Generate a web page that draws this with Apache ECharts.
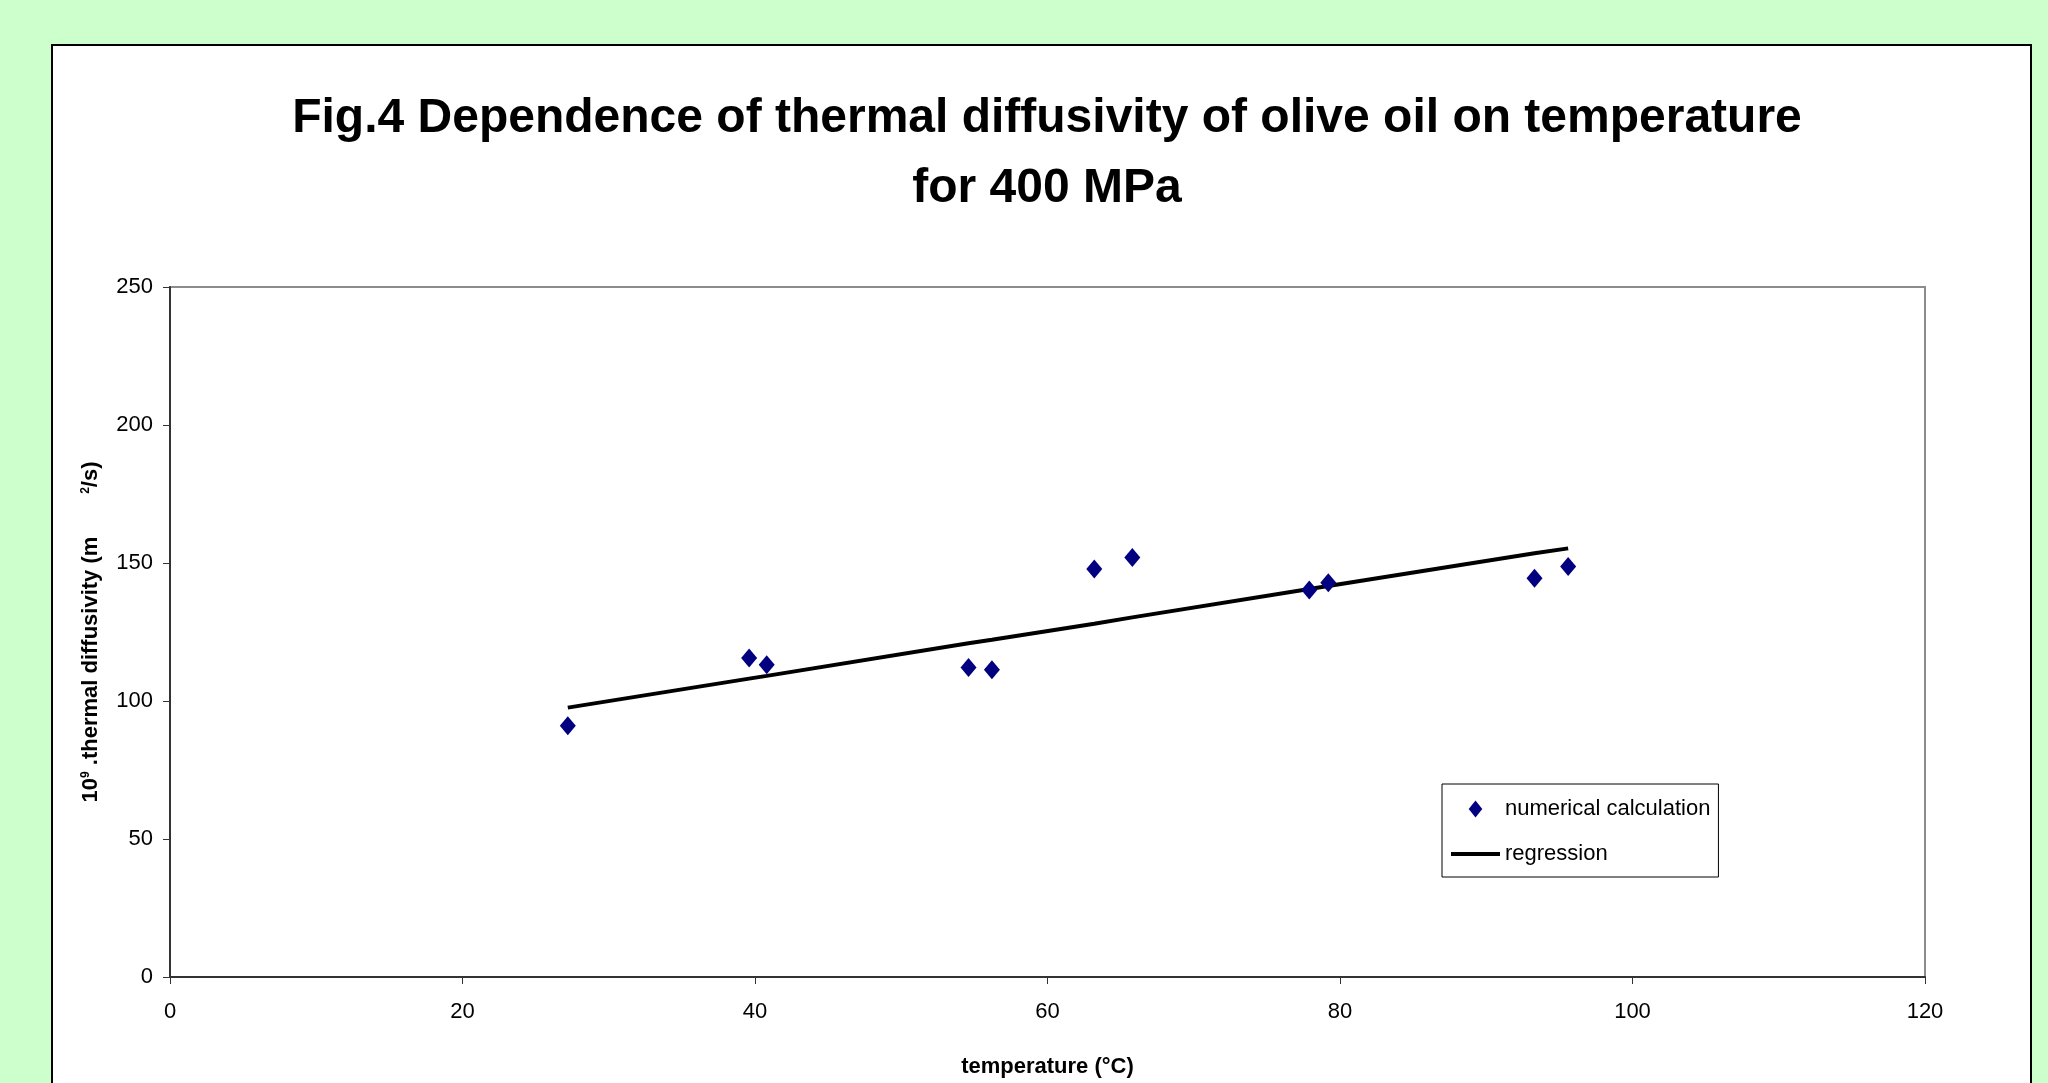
<!DOCTYPE html>
<html>
<head>
<meta charset="utf-8">
<script src="https://cdn.jsdelivr.net/npm/echarts@6/dist/echarts.min.js"></script>
<style>
  html, body { margin: 0; padding: 0; background: #ccffcc; }
  #main { width: 2048px; height: 1083px; }
</style>
</head>
<body>
<div id="main"></div>
<script>
// temperature (°C) of each calculated point
let tempC = [27.2, 39.6, 40.8, 54.6, 56.2, 63.2, 65.8, 77.9, 79.2, 93.3, 95.6];
// 10^9 . thermal diffusivity (m2/s)
let diffusivity = [91.0, 115.6, 113.1, 112.1, 111.3, 147.8, 152.0, 140.2, 142.8, 144.5, 148.7];
// regression line read at the same temperatures
let regressionY = [97.6, 108.1, 109.1, 120.9, 122.2, 128.0, 130.3, 140.6, 141.7, 153.5, 155.3];
let xTicks = [0, 20, 40, 60, 80, 100, 120];
let yTicks = [0, 50, 100, 150, 200, 250];

let font = "'Liberation Sans', Arial, sans-serif";
let myChart = echarts.init(document.getElementById('main'));

let option = {
    backgroundColor: '#ccffcc',
    animation: false,
    graphic: [{
        type: 'rect',
        z: -10,
        shape: { x: 52, y: 45, width: 1979, height: 1100 },
        style: { fill: '#ffffff', stroke: '#000000', lineWidth: 2 }
    }],
    title: {
        text: 'Fig.4 Dependence of thermal diffusivity of olive oil on temperature\nfor 400 MPa',
        left: 1042,
        top: 79,
        textAlign: 'center',
        textStyle: {
            fontFamily: font,
            fontWeight: 'bold',
            fontSize: 48,
            lineHeight: 70,
            color: '#000'
        }
    },
    legend: {
        orient: 'vertical',
        left: 1442,
        top: 784,
        padding: [14, 8, 12, 9],
        itemGap: 23,
        itemWidth: 49,
        itemHeight: 17,
        symbolKeepAspect: true,
        backgroundColor: '#fff',
        borderColor: '#000',
        borderWidth: 1,
        textStyle: { fontFamily: font, fontSize: 22, color: '#000' },
        data: [
            { name: 'numerical calculation', icon: 'path://M0,-10 L8,0 L0,10 L-8,0 Z' },
            { name: 'regression', icon: 'path://M0,0 L49,0 L49,4 L0,4 Z' }
        ]
    },
    grid: {
        left: 170,
        right: 123,
        top: 287,
        bottom: 102,
        show: true,
        backgroundColor: '#fff',
        borderColor: '#8c8c8c',
        borderWidth: 2
    },
    xAxis: {
        type: 'value',
        min: xTicks[0],
        max: xTicks[xTicks.length - 1],
        interval: 20,
        name: 'temperature (°C)',
        nameLocation: 'middle',
        nameGap: 79,
        nameTextStyle: { fontFamily: font, fontWeight: 'bold', fontSize: 22, color: '#000' },
        axisLine: { lineStyle: { color: '#333', width: 2 } },
        axisTick: { length: 7, lineStyle: { color: '#333' } },
        axisLabel: { fontFamily: font, fontSize: 22, color: '#000', margin: 24 },
        splitLine: { show: false }
    },
    yAxis: {
        type: 'value',
        min: yTicks[0],
        max: yTicks[yTicks.length - 1],
        interval: 50,
        name: '{b|10}{sup|9}{b| .thermal diffusivity (m       }{sup|2}{b|/s)}',
        nameLocation: 'middle',
        nameGap: 68,
        nameTextStyle: {
            rich: {
                b: { fontFamily: font, fontWeight: 'bold', fontSize: 22, color: '#000' },
                sup: { fontFamily: font, fontWeight: 'bold', fontSize: 12, color: '#000', verticalAlign: 'top', padding: [0, 0, 8, 0] }
            }
        },
        axisLine: { show: true, lineStyle: { color: '#333', width: 2 } },
        axisTick: { show: true, length: 7, lineStyle: { color: '#333' } },
        axisLabel: { fontFamily: font, fontSize: 22, color: '#000', margin: 17 },
        splitLine: { show: false }
    },
    series: [{
        name: 'numerical calculation',
        type: 'scatter',
        symbol: 'diamond',
        symbolSize: [16, 19],
        itemStyle: { color: '#000080', opacity: 1 },
        z: 3,
        data: tempC.map((t, i) => [t, diffusivity[i]])
    },
    {
        name: 'regression',
        type: 'line',
        showSymbol: false,
        symbol: 'none',
        lineStyle: { color: '#000', width: 4 },
        itemStyle: { color: '#000' },
        z: 2,
        data: tempC.map((t, i) => [t, regressionY[i]])
    }]
};
myChart.setOption(option);
</script>
</body>
</html>
